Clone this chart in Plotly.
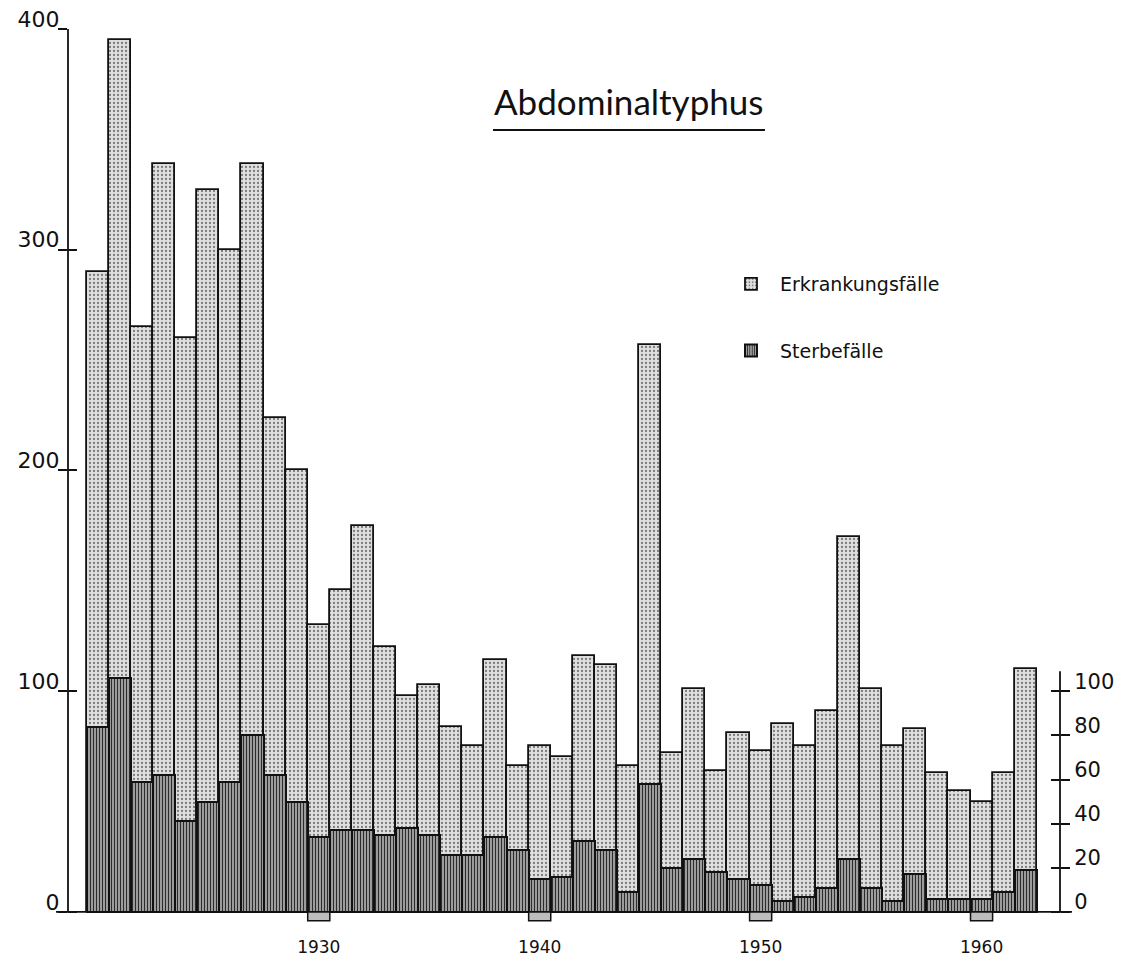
import plotly.graph_objects as go

# ---- data ----
years = list(range(1920, 1963))
cases = [290, 395, 265, 339, 260, 327, 300, 339, 224, 200,
         130, 146, 175, 120, 98, 103, 84, 75, 114, 66,
         75, 70, 116, 112, 66, 257, 72, 101, 64, 81,
         73, 85, 75, 91, 170, 101, 75, 83, 63, 55,
         50, 63, 110]
deaths = [84, 106, 59, 62, 41, 50, 59, 80, 62, 50,
          34, 37, 37, 35, 38, 35, 26, 26, 34, 28,
          15, 16, 32, 28, 9, 58, 20, 24, 18, 15,
          12, 5, 7, 11, 24, 11, 5, 17, 6, 6,
          6, 9, 19]
left_ticks = [0, 100, 200, 300, 400]
right_ticks = [0, 20, 40, 60, 80, 100]
decades = [1930, 1940, 1950, 1960]
decade_labels = ["1930", "1940", "1950", "1960"]
series_names = ["Erkrankungsfälle", "Sterbefälle"]
title_text = "Abdominaltyphus"

# ---- layout geometry ----
W, H = 1127, 956
ML, MR, MT, MB = 68, 67, 29, 33
YMIN, YMAX = -5, 400
XMIN, XMAX = 1918.65, 1963.55
RIGHT_AXIS_TOP = 109
FONT = "DejaVu Sans"


def py(v):
    return (v - YMIN) / (YMAX - YMIN)


def pxp(px):
    return (px - ML) / (W - ML - MR)


def pyp(px):
    return (H - MB - px) / (H - MT - MB)


fig = go.Figure()
fig.add_trace(go.Bar(
    x=years, y=cases, width=1, name=series_names[0], legendgroup="a",
    opacity=1,
    marker=dict(color="#e0e0e0", line=dict(color="#111", width=1.8),
                pattern=dict(shape=".", fgcolor="#7a7a7a", bgcolor="#e0e0e0",
                             size=4, solidity=0.25)),
))
fig.add_trace(go.Bar(
    x=years, y=deaths, width=1, name=series_names[1], legendgroup="b",
    opacity=1,
    marker=dict(color="#9c9c9c", line=dict(color="#111", width=2),
                pattern=dict(shape="|", fgcolor="#2a2a2a", bgcolor="#9c9c9c",
                             size=3, solidity=0.33)),
))
# empty helper traces so that the extra tick axes get drawn
for ax in ["y2", "y3", "y4"]:
    fig.add_trace(go.Scatter(x=[], y=[], yaxis=ax, showlegend=False, hoverinfo="skip"))

shapes = [
    dict(type="line", xref="paper", yref="paper", x0=0, x1=0, y0=py(0), y1=py(400),
         line=dict(color="#111", width=1.8)),
    dict(type="line", xref="paper", yref="paper", x0=1, x1=1, y0=py(0), y1=py(RIGHT_AXIS_TOP),
         line=dict(color="#111", width=1.8)),
    dict(type="line", xref="paper", yref="paper", x0=pxp(56), x1=pxp(1072), y0=py(0), y1=py(0),
         line=dict(color="#111", width=1.8)),
    dict(type="line", xref="paper", yref="paper", x0=pxp(493), x1=pxp(765), y0=pyp(130), y1=pyp(130),
         line=dict(color="#111", width=1.8)),
]
for d in decades:
    shapes.append(dict(type="rect", xref="x", yref="y", x0=d - 0.5, x1=d + 0.5, y0=-4, y1=0,
                       fillcolor="#bdbdbd", line=dict(color="#111", width=1.5)))

common_y = dict(range=[YMIN, YMAX], showline=False, showgrid=False, zeroline=False,
                automargin=False, tickwidth=1.6, tickcolor="#111", ticklen=9)

fig.update_layout(
    template="none",
    width=W, height=H,
    margin=dict(l=ML, r=MR, t=MT, b=MB, autoexpand=False),
    paper_bgcolor="white", plot_bgcolor="white",
    barmode="overlay", bargap=0,
    font=dict(family=FONT, color="#111"),
    shapes=shapes,
    showlegend=True,
    legend=dict(x=pxp(722), y=pyp(265), xanchor="left", yanchor="top",
                font=dict(size=19, family=FONT), tracegroupgap=39,
                bgcolor="rgba(0,0,0,0)", itemwidth=48),
    annotations=[dict(text=title_text, xref="paper", yref="paper",
                      x=pxp(628), y=pyp(101), xanchor="center", yanchor="middle",
                      showarrow=False, font=dict(size=35, family="Lato", color="#111"))],
    xaxis=dict(range=[XMIN, XMAX], tickvals=decades, ticktext=decade_labels,
               ticks="", showline=False, showgrid=False, zeroline=False, automargin=False,
               tickfont=dict(size=17), ticklabelstandoff=12),
    yaxis=dict(common_y, tickvals=left_ticks, ticks="outside",
               tickfont=dict(size=22), ticklabelshift=-10, ticklabelstandoff=-6),
    yaxis3=dict(common_y, overlaying="y", tickvals=left_ticks, ticks="inside",
                showticklabels=False),
    yaxis2=dict(common_y, overlaying="y", side="right", tickvals=right_ticks,
                ticks="outside", tickfont=dict(size=21), ticklabelshift=-10),
    yaxis4=dict(common_y, overlaying="y", side="right", tickvals=right_ticks,
                ticks="inside", showticklabels=False),
)

fig.write_html("out.html", config={"displayModeBar": False},
               post_script="document.body.style.margin='0';document.body.style.overflow='hidden';")
